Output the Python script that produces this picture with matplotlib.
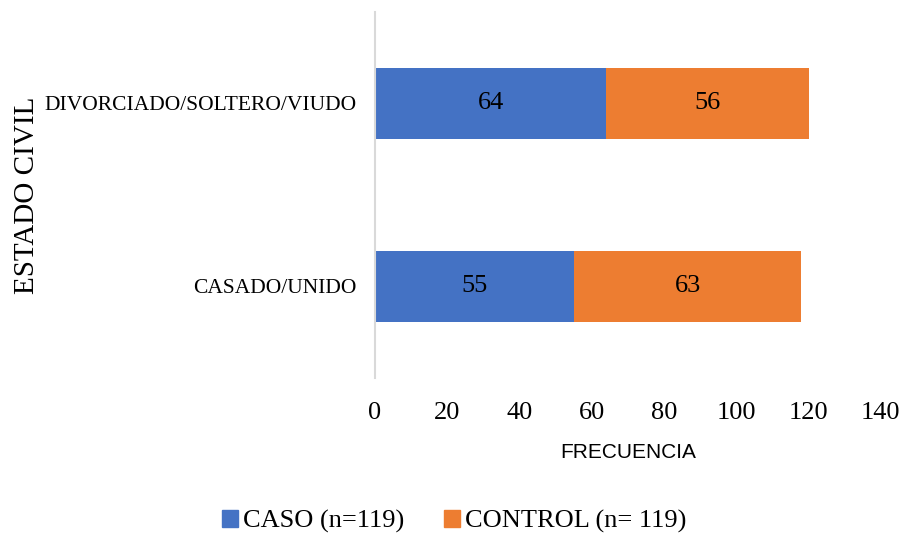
import numpy as np
import matplotlib
matplotlib.use("Agg")
from matplotlib import pyplot as plt
from matplotlib.patches import Patch

# datos
categorias = ["CASADO/UNIDO", "DIVORCIADO/SOLTERO/VIUDO"]
caso = [55, 64]
control = [63, 56]
xticks = [0, 20, 40, 60, 80, 100, 120, 140]

azul = "#4472C4"
naranja = "#ED7D31"

plt.rcParams['font.family'] = ['Liberation Serif', 'DejaVu Serif']

fig = plt.figure(figsize=(9.09, 5.35), dpi=100)
ax = fig.add_axes([0.4125, 0.2935, 0.969 - 0.4125, 0.978 - 0.2935])

y = np.arange(len(categorias))
b1 = ax.barh(y, caso, height=0.39, color=azul)
b2 = ax.barh(y, control, height=0.39, left=caso, color=naranja)

# etiquetas dentro de las barras
for i in range(len(categorias)):
	ax.text(caso[i] / 2, y[i], str(caso[i]), ha='center', va='center', fontsize=19)
	ax.text(caso[i] + control[i] / 2, y[i], str(control[i]), ha='center', va='center', fontsize=19)

ax.set_xlim(0, 140)
ax.set_ylim(-0.5, 1.5)
ax.set_xticks(xticks)
ax.set_xticklabels([str(t) for t in xticks], fontsize=19)
ax.set_yticks(y)
ax.set_yticklabels(categorias, fontsize=15.5)
ax.tick_params(axis='both', length=0)
ax.tick_params(axis='x', pad=17)
ax.tick_params(axis='y', pad=13.5)

for s in ['top', 'right', 'bottom']:
	ax.spines[s].set_visible(False)
ax.spines['left'].set_color('#D9D9D9')
ax.spines['left'].set_linewidth(1.5)

ax.set_xlabel("FRECUENCIA", fontsize=15, family=['Liberation Sans', 'DejaVu Sans'], labelpad=14)
fig.text(0.03, 0.635, "ESTADO CIVIL", rotation=90, ha='center', va='center', fontsize=21)

handles = [Patch(color=azul), Patch(color=naranja)]
fig.legend(handles, ["CASO (n=119)", "CONTROL (n= 119)"], loc='center', bbox_to_anchor=(0.5, 0.025),
	ncol=2, frameon=False, fontsize=19, handlelength=0.6, handleheight=0.6, handletextpad=0.2,
	columnspacing=1.5)

plt.savefig('out.png', dpi=100)
